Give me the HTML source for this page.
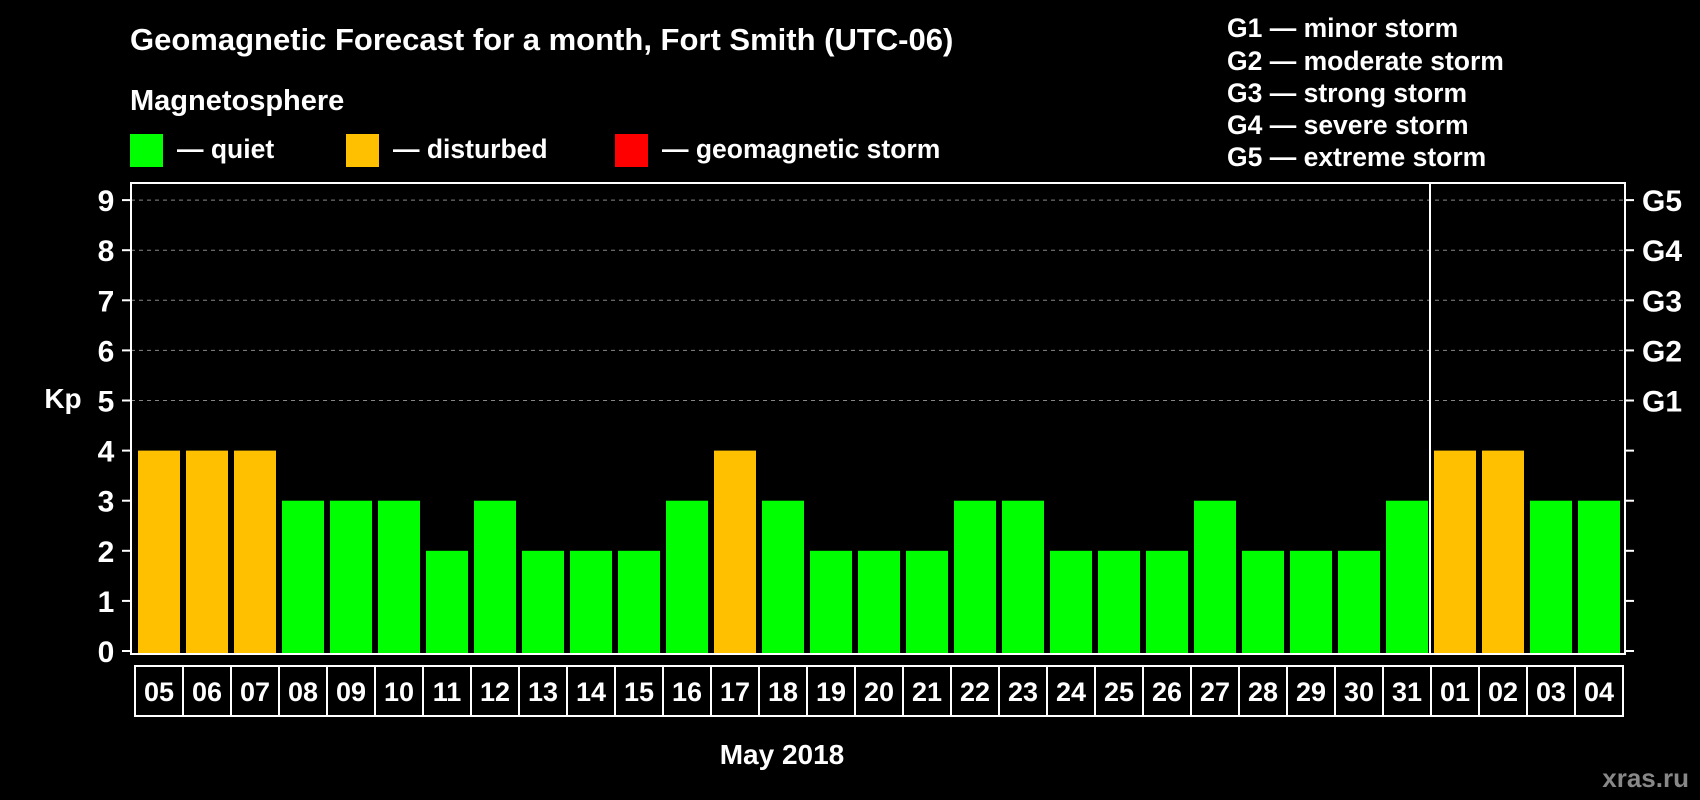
<!DOCTYPE html>
<html><head><meta charset="utf-8"><style>
html,body{margin:0;padding:0;background:#000;}
svg{display:block;font-family:"Liberation Sans",Arial,sans-serif;font-weight:bold;}
</style></head><body>
<svg id="chart" width="1700" height="800" viewBox="0 0 1700 800">
<rect width="1700" height="800" fill="#000"/>
<text x="130" y="50" fill="#fff" font-size="31">Geomagnetic Forecast for a month, Fort Smith (UTC-06)</text>
<text x="130" y="110" fill="#fff" font-size="29">Magnetosphere</text>
<rect x="130" y="134" width="33" height="33" fill="#00ff00"/>
<text x="177" y="158" fill="#fff" font-size="26.5">— quiet</text>
<rect x="346" y="134" width="33" height="33" fill="#ffc000"/>
<text x="393" y="158" fill="#fff" font-size="26.5">— disturbed</text>
<rect x="615" y="134" width="33" height="33" fill="#ff0000"/>
<text x="662" y="158" fill="#fff" font-size="26.5">— geomagnetic storm</text>
<g fill="#fff" font-size="26.5">
<text x="1227" y="37">G1 — minor storm</text>
<text x="1227" y="70">G2 — moderate storm</text>
<text x="1227" y="102">G3 — strong storm</text>
<text x="1227" y="134">G4 — severe storm</text>
<text x="1227" y="166">G5 — extreme storm</text>
</g>
<text x="63" y="408" fill="#fff" font-size="28" text-anchor="middle">Kp</text>
<text x="782" y="764" fill="#fff" font-size="28" text-anchor="middle">May 2018</text>
<text x="1689" y="787" fill="#888" font-size="26" text-anchor="end">xras.ru</text>
<g id="grid"></g><g id="bars"></g><g id="axes"></g>
</svg>
<script>
const days=["05","06","07","08","09","10","11","12","13","14","15","16","17","18","19","20","21","22","23","24","25","26","27","28","29","30","31","01","02","03","04"];
const kp=[4,4,4,3,3,3,2,3,2,2,2,3,4,3,2,2,2,3,3,2,2,2,3,2,2,2,3,4,4,3,3];
const yTicks=[0,1,2,3,4,5,6,7,8,9];
const gLabels=["G1","G2","G3","G4","G5"];
const gLevels=[5,6,7,8,9];
const monthBreakIndex=27;
const NS="http://www.w3.org/2000/svg";
const L=131,R=1625,T=183,B=654;
const y=v=>651-v*50.1;
const x=i=>135+i*48;
function mk(tag,at,parent){const e=document.createElementNS(NS,tag);for(const k in at)e.setAttribute(k,at[k]);parent.appendChild(e);return e;}
const grid=document.getElementById('grid'),bars=document.getElementById('bars'),axes=document.getElementById('axes');
gLevels.forEach(v=>{const l=mk('line',{x1:L,x2:R,y1:y(v),y2:y(v),stroke:'#888','stroke-dasharray':'4,4','stroke-width':1},grid);

});
kp.forEach((v,i)=>{const r=mk('rect',{x:x(i)+3,y:y(v),width:42,height:B-y(v),fill:v>=5?'#ff0000':(v>=4?'#ffc000':'#00ff00')},bars);

});
const fr=mk('rect',{x:L,y:T,width:R-L,height:B-T,fill:'none',stroke:'#fff','stroke-width':2},axes);


const sep=mk('line',{x1:x(monthBreakIndex)-1,x2:x(monthBreakIndex)-1,y1:T,y2:B,stroke:'#fff','stroke-width':2},axes);


yTicks.forEach(v=>{mk('line',{x1:122,x2:L,y1:y(v),y2:y(v),stroke:'#fff','stroke-width':2},axes);
mk('line',{x1:R,x2:1634,y1:y(v),y2:y(v),stroke:'#fff','stroke-width':2},axes);
const t=mk('text',{x:106,y:y(v)+11,fill:'#fff','font-size':30,'text-anchor':'middle'},axes);t.textContent=v;

});
gLevels.forEach((v,i)=>{const t=mk('text',{x:1642,y:y(v)+11,fill:'#fff','font-size':30},axes);t.textContent=gLabels[i];

});
days.forEach((d,i)=>{const b=mk('rect',{x:x(i),y:666,width:48,height:50,fill:'none',stroke:'#fff','stroke-width':2},axes);


const t=mk('text',{x:x(i)+24,y:701,fill:'#fff','font-size':27,'text-anchor':'middle'},axes);t.textContent=d;

});
</script>
</body></html>
